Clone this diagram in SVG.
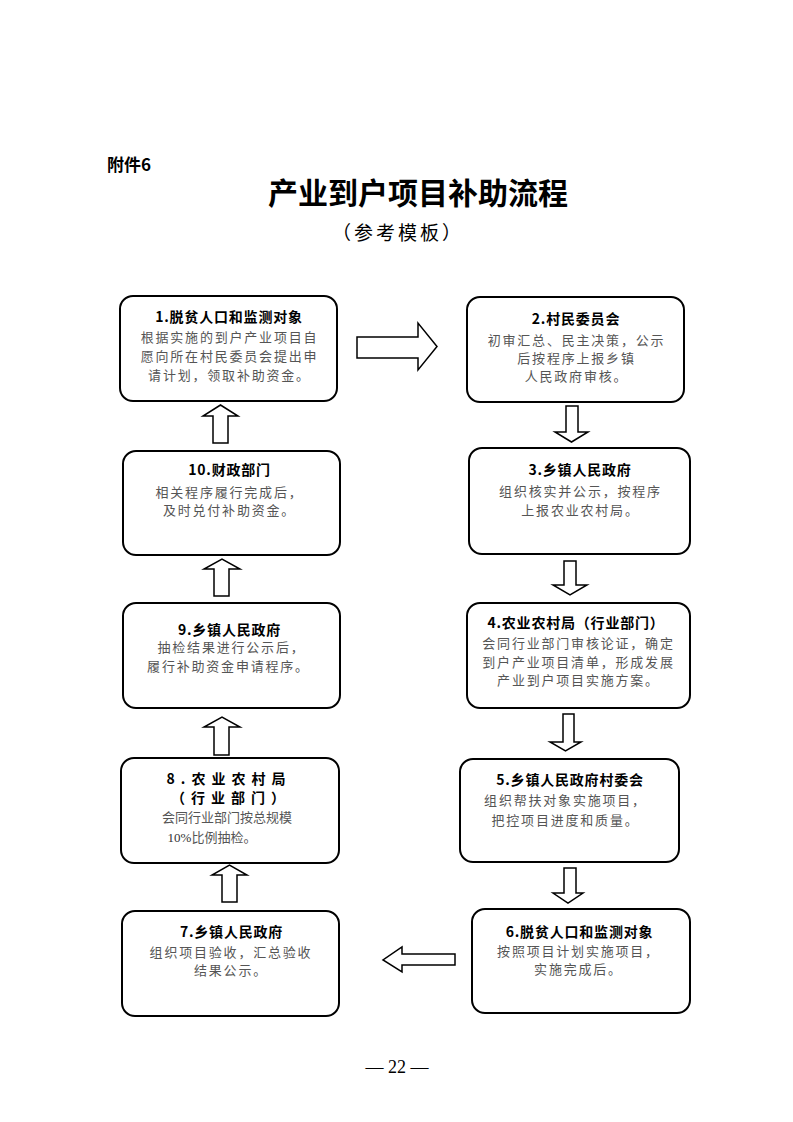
<svg xmlns="http://www.w3.org/2000/svg" width="793" height="1122" viewBox="0 0 793 1122">
<style>
.bg{fill:#fff}
.box{fill:#fff;stroke:#000;stroke-width:2}
.arr{fill:#fff;stroke:#000;stroke-width:1.5;stroke-linejoin:miter}
.t{font-family:"Noto Sans CJK SC","Liberation Serif",serif;font-size:14px;font-weight:bold;fill:#000;text-anchor:middle;letter-spacing:0.8px}
.b{font-family:"Noto Sans CJK SC","Liberation Serif",serif;font-size:13px;fill:#555;text-anchor:middle;letter-spacing:1.8px}
.h{font-family:"Noto Sans CJK SC",sans-serif}
</style>
<rect class="bg" x="0" y="0" width="793" height="1122"/>
<text class="h" x="107" y="171" font-size="17" font-weight="bold" fill="#000">附件6</text>
<text class="h" x="418" y="204" font-size="30" font-weight="bold" fill="#000" text-anchor="middle">产业到户项目补助流程</text>
<text class="h" x="398" y="240" font-size="19" fill="#000" text-anchor="middle" letter-spacing="3">（参考模板）</text>

<g id="connectors">
<polygon class="arr" points="357,337 418,337 418,323 437,346.5 418,370 418,358 357,358"/>
<polygon class="arr" points="213,443 213,416 203,416 220.5,405 238,416 228,416 228,443"/>
<polygon class="arr" points="566,406 578,406 578,432 588,432 571.5,442 555,432 566,432"/>
<polygon class="arr" points="214,596 214,569 204,569 222,559 240,569 229,569 229,596"/>
<polygon class="arr" points="564,561 576,561 576,585 587,585 570,595 553,585 564,585"/>
<polygon class="arr" points="214,755 214,727 204,727 222,717 240,727 229,727 229,755"/>
<polygon class="arr" points="563,714 574,714 574,742 581,742 565.5,751 550,742 563,742"/>
<polygon class="arr" points="222,902 222,875 212,875 229.5,865 247,875 237,875 237,902"/>
<polygon class="arr" points="564,868 576,868 576,893 583,893 568,903 553,893 564,893"/>
<polygon class="arr" points="455,954 402,954 402,947 383,960 402,972 402,965 455,965"/>
</g>

<g id="n1">
<rect class="box" x="120" y="296" width="217" height="105" rx="13"/>
<text class="t" x="229" y="322">1.脱贫人口和监测对象</text>
<text class="b" x="229.5" y="342">根据实施的到户产业项目自</text>
<text class="b" x="229.5" y="361">愿向所在村民委员会提出申</text>
<text class="b" x="229.5" y="380">请计划，领取补助资金。</text>
</g>
<g id="n2">
<rect class="box" x="467" y="297" width="217" height="105" rx="13"/>
<text class="t" x="576" y="324">2.村民委员会</text>
<text class="b" x="576.5" y="345">初审汇总、民主决策，公示</text>
<text class="b" x="576.5" y="363">后按程序上报乡镇</text>
<text class="b" x="576.5" y="381">人民政府审核。</text>
</g>
<g id="n3">
<rect class="box" x="469" y="448" width="221" height="106" rx="13"/>
<text class="t" x="580" y="475">3.乡镇人民政府</text>
<text class="b" x="580.5" y="496">组织核实并公示，按程序</text>
<text class="b" x="580.5" y="515">上报农业农村局。</text>
</g>
<g id="n4">
<rect class="box" x="467" y="603" width="223" height="105" rx="13"/>
<text class="t" x="576" y="628">4.农业农村局（行业部门）</text>
<text class="b" x="578.5" y="648">会同行业部门审核论证，确定</text>
<text class="b" x="578.5" y="667">到户产业项目清单，形成发展</text>
<text class="b" x="578.5" y="685">产业到户项目实施方案。</text>
</g>
<g id="n5">
<rect class="box" x="460" y="759" width="219" height="103" rx="13"/>
<text class="t" x="570" y="785">5.乡镇人民政府村委会</text>
<text class="b" x="565.5" y="805">组织帮扶对象实施项目，</text>
<text class="b" x="565.5" y="825">把控项目进度和质量。</text>
</g>
<g id="n6">
<rect class="box" x="472" y="909" width="218" height="104" rx="13"/>
<text class="t" x="579.5" y="937">6.脱贫人口和监测对象</text>
<text class="b" x="578.5" y="956">按照项目计划实施项目，</text>
<text class="b" x="578.5" y="974">实施完成后。</text>
</g>
<g id="n7">
<rect class="box" x="122" y="911" width="217" height="105" rx="13"/>
<text class="t" x="231.5" y="937">7.乡镇人民政府</text>
<text class="b" x="231" y="957">组织项目验收，汇总验收</text>
<text class="b" x="231" y="975">结果公示。</text>
</g>
<g id="n8">
<rect class="box" x="121" y="758" width="218" height="105" rx="13"/>
<text class="t" x="229" y="784" style="letter-spacing:6px">8.农业农村局</text>
<text class="t" x="231" y="803" style="letter-spacing:6px">（行业部门）</text>
<text class="b" x="227" y="822" style="letter-spacing:0">会同行业部门按总规模</text>
<text x="212" y="842" font-family="Liberation Serif,serif" font-size="13" fill="#333" text-anchor="middle">10%<tspan font-family="Noto Sans CJK SC,sans-serif" fill="#555">比例抽检。</tspan></text>
</g>
<g id="n9">
<rect class="box" x="123" y="603" width="217" height="105" rx="13"/>
<text class="t" x="229.5" y="635">9.乡镇人民政府</text>
<text class="b" x="231.5" y="652">抽检结果进行公示后，</text>
<text class="b" x="228.5" y="671">履行补助资金申请程序。</text>
</g>
<g id="n10">
<rect class="box" x="123" y="451" width="217" height="104" rx="13"/>
<text class="t" x="229.5" y="475">10.财政部门</text>
<text class="b" x="229.5" y="497">相关程序履行完成后，</text>
<text class="b" x="229.5" y="515">及时兑付补助资金。</text>
</g>

<text x="397" y="1073" font-family="Liberation Serif,serif" font-size="18" fill="#000" text-anchor="middle">— 22 —</text>
</svg>
